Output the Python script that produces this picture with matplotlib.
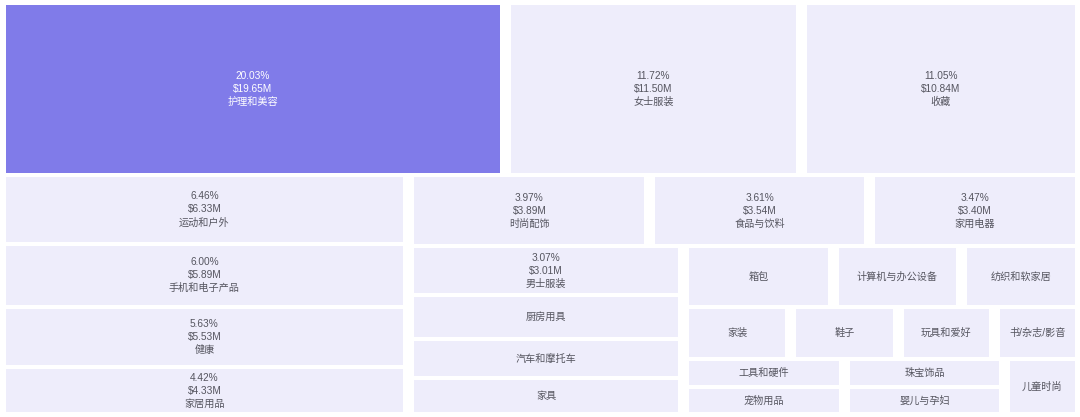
import matplotlib.pyplot as plt
from matplotlib.patches import Rectangle

plt.rcParams['font.family'] = ['Liberation Sans', 'Noto Sans CJK SC', 'DejaVu Sans']

names = ["护理和美容", "女士服装", "收藏",
         "运动和户外", "手机和电子产品", "健康", "家居用品",
         "时尚配饰", "食品与饮料", "家用电器",
         "男士服装", "厨房用具", "汽车和摩托车", "家具",
         "箱包", "计算机与办公设备", "纺织和软家居",
         "家装", "鞋子", "玩具和爱好", "书/杂志/影音",
         "工具和硬件", "宠物用品", "珠宝饰品", "婴儿与孕妇", "儿童时尚"]
share = [20.03, 11.72, 11.05,
         6.46, 6.00, 5.63, 4.42,
         3.97, 3.61, 3.47,
         3.07, 2.80, 2.45, 2.28,
         2.10, 1.79, 1.66,
         1.29, 1.29, 1.15, 1.03,
         1.02, 1.01, 1.01, 1.00, 0.95]
pct_labels = ["20.03%", "11.72%", "11.05%", "6.46%", "6.00%", "5.63%", "4.42%",
              "3.97%", "3.61%", "3.47%", "3.07%"]
sales = ["$19.65M", "$11.50M", "$10.84M", "$6.33M", "$5.89M", "$5.53M", "$4.33M",
         "$3.89M", "$3.54M", "$3.40M", "$3.01M"]

# squarified strips: how many items per strip and which way it runs
strip_sizes = [3, 4, 3, 4, 3, 4, 2, 2, 1]
strip_dirs = ["row", "col", "row", "col", "row", "row", "col", "col", "col"]


def strips(vals, sizes, dirs, x0, y0, x1, y1):
    out = []
    i = 0
    for n, d in zip(sizes, dirs):
        grp = vals[i:i + n]
        s = sum(grp)
        rest = sum(vals[i:])
        if d == "row":
            h = (y1 - y0) * s / rest
            x = x0
            for v in grp:
                w = (x1 - x0) * v / s
                out.append((x, y0, w, h))
                x += w
            y0 += h
        else:
            w = (x1 - x0) * s / rest
            y = y0
            for v in grp:
                h = (y1 - y0) * v / s
                out.append((x0, y, w, h))
                y += h
            x0 += w
        i += n
    return out


W, H = 1080, 417
fig = plt.figure(figsize=(W / 100, H / 100), dpi=100)
ax = fig.add_axes([0, 0, 1, 1])
ax.set_xlim(0, W)
ax.set_ylim(H, 0)
ax.axis("off")

gx, gy = 5.5, 2
cells = strips(share, strip_sizes, strip_dirs, 0, 3, W, H - 3)
for k, (x, y, w, h) in enumerate(cells):
    color = "#807BE9" if k == 0 else "#EEEDFB"
    tc = "white" if k == 0 else "#55555F"
    ax.add_patch(Rectangle((x + gx, y + gy), w - 2 * gx, h - 2 * gy,
                           facecolor=color, edgecolor="none"))
    cx, cy = x + w / 2, y + h / 2
    if k < len(sales):
        for dy, t in zip([-13, 0, 13], [pct_labels[k], sales[k], names[k]]):
            ax.text(cx, cy + dy, t, ha="center", va="center", fontsize=7.3, color=tc)
    else:
        ax.text(cx, cy, names[k], ha="center", va="center", fontsize=7.3, color=tc)

fig.savefig("out.png", dpi=100)
